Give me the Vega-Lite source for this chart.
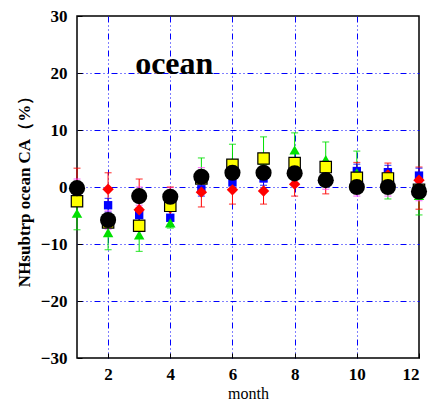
{
  "$schema": "https://vega.github.io/schema/vega-lite/v6.json",
  "width": 342,
  "height": 342,
  "autosize": {"type": "none"},
  "padding": {"left": 77, "top": 16, "right": 14, "bottom": 46},
  "background": "white",
  "config": {
    "view": {"stroke": "black", "strokeWidth": 1.5},
    "font": "Liberation Serif",
    "axis": {
      "domain": false,
      "tickSize": -5,
      "tickColor": "black",
      "labelColor": "black",
      "labelFont": "Liberation Serif",
      "labelFontWeight": "bold",
      "labelFontSize": 17,
      "titleColor": "black",
      "titleFont": "Liberation Serif",
      "gridColor": {"condition": {"test": "datum.value == 30 || datum.value == -30 || datum.value == 12", "value": "transparent"}, "value": "#0000ff"},
      "gridDash": [6, 3, 1, 3, 1, 3],
      "gridWidth": 1,
      "gridOpacity": 1
    },
    "axisX": {"labelPadding": 13, "titleFontWeight": "normal", "titleFontSize": 16, "titlePadding": 3},
    "axisY": {"labelPadding": 15, "titleFontWeight": "bold", "titleFontSize": 17, "titlePadding": 7}
  },
  "datasets": {
    "pts": [
      {"m": 1, "s": "black", "v": -0.2, "lo": -1.8, "hi": 1.4},
      {"m": 2, "s": "black", "v": -5.8, "lo": -7.4, "hi": -4.2},
      {"m": 3, "s": "black", "v": -1.6, "lo": -3.2, "hi": 0.0},
      {"m": 4, "s": "black", "v": -1.7, "lo": -3.3, "hi": -0.1},
      {"m": 5, "s": "black", "v": 1.8, "lo": 0.2, "hi": 3.4},
      {"m": 6, "s": "black", "v": 2.5, "lo": 0.9, "hi": 4.1},
      {"m": 7, "s": "black", "v": 2.5, "lo": 0.9, "hi": 4.1},
      {"m": 8, "s": "black", "v": 2.4, "lo": 0.8, "hi": 4.0},
      {"m": 9, "s": "black", "v": 1.2, "lo": -0.4, "hi": 2.8},
      {"m": 10, "s": "black", "v": 0.0, "lo": -1.6, "hi": 1.6},
      {"m": 11, "s": "black", "v": 0.0, "lo": -1.6, "hi": 1.6},
      {"m": 12, "s": "black", "v": -0.8, "lo": -2.4, "hi": 0.8},
      {"m": 1, "s": "yellow", "v": -2.5},
      {"m": 2, "s": "yellow", "v": -6.2},
      {"m": 3, "s": "yellow", "v": -6.8},
      {"m": 4, "s": "yellow", "v": -3.3},
      {"m": 5, "s": "yellow", "v": 1.5},
      {"m": 6, "s": "yellow", "v": 3.9},
      {"m": 7, "s": "yellow", "v": 5.0},
      {"m": 8, "s": "yellow", "v": 4.2},
      {"m": 9, "s": "yellow", "v": 3.5},
      {"m": 10, "s": "yellow", "v": 1.6},
      {"m": 11, "s": "yellow", "v": 1.5},
      {"m": 12, "s": "yellow", "v": -0.5},
      {"m": 1, "s": "green", "v": -4.6, "lo": -7.5, "hi": -1.7},
      {"m": 2, "s": "green", "v": -8.0, "lo": -11.0, "hi": -5.0},
      {"m": 3, "s": "green", "v": -8.4, "lo": -11.3, "hi": -5.5},
      {"m": 4, "s": "green", "v": -6.3, "lo": -7.2, "hi": -4.0},
      {"m": 5, "s": "green", "v": 2.0, "lo": -1.0, "hi": 5.1},
      {"m": 6, "s": "green", "v": 4.4, "lo": 1.5, "hi": 7.5},
      {"m": 7, "s": "green", "v": 4.7, "lo": 1.0, "hi": 8.8},
      {"m": 8, "s": "green", "v": 6.5, "lo": 3.5, "hi": 9.5},
      {"m": 9, "s": "green", "v": 4.8, "lo": 1.7, "hi": 7.9},
      {"m": 10, "s": "green", "v": 2.5, "lo": -1.0, "hi": 6.3},
      {"m": 11, "s": "green", "v": 0.5, "lo": -2.1, "hi": 3.0},
      {"m": 12, "s": "green", "v": -1.5, "lo": -4.9, "hi": 1.5},
      {"m": 1, "s": "red", "v": -0.5, "lo": -3.0, "hi": 3.3},
      {"m": 2, "s": "red", "v": -0.4, "lo": -3.0, "hi": 2.5},
      {"m": 3, "s": "red", "v": -4.0, "lo": -6.5, "hi": 1.4},
      {"m": 4, "s": "red", "v": -3.7, "lo": -5.5, "hi": 0.0},
      {"m": 5, "s": "red", "v": -0.9, "lo": -3.5, "hi": 1.5},
      {"m": 6, "s": "red", "v": -0.5, "lo": -3.0, "hi": 2.0},
      {"m": 7, "s": "red", "v": -0.7, "lo": -3.0, "hi": 1.8},
      {"m": 8, "s": "red", "v": 0.5, "lo": -1.6, "hi": 3.0},
      {"m": 9, "s": "red", "v": 1.5, "lo": -1.2, "hi": 4.5},
      {"m": 10, "s": "red", "v": 1.8, "lo": -0.5, "hi": 4.3},
      {"m": 11, "s": "red", "v": 2.1, "lo": 0.0, "hi": 4.2},
      {"m": 12, "s": "red", "v": 1.2, "lo": -3.9, "hi": 3.5},
      {"m": 1, "s": "blue", "v": -1.0, "lo": -2.2, "hi": 0.2},
      {"m": 2, "s": "blue", "v": -3.2, "lo": -4.4, "hi": -2.0},
      {"m": 3, "s": "blue", "v": -4.9, "lo": -6.1, "hi": -3.7},
      {"m": 4, "s": "blue", "v": -5.4, "lo": -6.6, "hi": -4.2},
      {"m": 5, "s": "blue", "v": -0.4, "lo": -1.6, "hi": 0.8},
      {"m": 6, "s": "blue", "v": 0.8, "lo": -0.4, "hi": 2.0},
      {"m": 7, "s": "blue", "v": 1.5, "lo": 0.3, "hi": 2.7},
      {"m": 8, "s": "blue", "v": 2.0, "lo": 0.8, "hi": 3.2},
      {"m": 9, "s": "blue", "v": 2.5, "lo": 1.3, "hi": 3.7},
      {"m": 10, "s": "blue", "v": 2.8, "lo": 1.6, "hi": 4.0},
      {"m": 11, "s": "blue", "v": 2.6, "lo": 1.4, "hi": 3.8},
      {"m": 12, "s": "blue", "v": 2.0, "lo": 0.8, "hi": 3.3}
    ],
    "label": [{"m": 2.87, "v": 19.8, "t": "ocean"}]
  },
  "encoding": {
    "x": {"field": "m", "type": "quantitative", "title": "month",
          "scale": {"domain": [1, 12], "nice": false, "zero": false},
          "axis": {"values": [2, 4, 6, 8, 10, 12]}}
  },
  "layer": [
    {
      "data": {"name": "pts"},
      "transform": [{"filter": "isValid(datum.lo)"}],
      "mark": {"type": "rule", "strokeWidth": 1},
      "encoding": {
        "y": {"field": "lo", "type": "quantitative", "title": "NHsubtrp ocean CA（%）",
              "scale": {"domain": [-30, 30], "nice": false},
              "axis": {"values": [-30, -20, -10, 0, 10, 20, 30]}},
        "y2": {"field": "hi"},
        "color": {"field": "s", "type": "nominal", "legend": null,
                  "scale": {"domain": ["black", "green", "red", "blue"], "range": ["#ff44ff", "#00e000", "#ff0000", "#0000ff"]}}
      }
    },
    {
      "data": {"name": "pts"},
      "transform": [{"filter": "isValid(datum.lo)"}],
      "mark": {"type": "tick", "orient": "horizontal", "size": 7, "thickness": 1.2},
      "encoding": {
        "y": {"field": "lo", "type": "quantitative", "title": "NHsubtrp ocean CA（%）"},
        "color": {"field": "s", "type": "nominal", "legend": null}
      }
    },
    {
      "data": {"name": "pts"},
      "transform": [{"filter": "isValid(datum.lo)"}],
      "mark": {"type": "tick", "orient": "horizontal", "size": 7, "thickness": 1.2},
      "encoding": {
        "y": {"field": "hi", "type": "quantitative", "title": "NHsubtrp ocean CA（%）"},
        "color": {"field": "s", "type": "nominal", "legend": null}
      }
    },
    {
      "data": {"name": "pts"},
      "transform": [{"filter": "datum.s == 'blue'"}],
      "mark": {"type": "point", "shape": "square", "filled": true, "color": "#0000ff", "size": 70, "opacity": 1},
      "encoding": {"y": {"field": "v", "type": "quantitative", "title": "NHsubtrp ocean CA（%）"}}
    },
    {
      "data": {"name": "pts"},
      "transform": [{"filter": "datum.s == 'red'"}],
      "mark": {"type": "point", "shape": "diamond", "filled": true, "color": "#ff0000", "size": 130, "opacity": 1},
      "encoding": {"y": {"field": "v", "type": "quantitative", "title": "NHsubtrp ocean CA（%）"}}
    },
    {
      "data": {"name": "pts"},
      "transform": [{"filter": "datum.s == 'green'"}],
      "mark": {"type": "point", "shape": "triangle-up", "filled": true, "color": "#00e000", "size": 110, "opacity": 1},
      "encoding": {"y": {"field": "v", "type": "quantitative", "title": "NHsubtrp ocean CA（%）"}}
    },
    {
      "data": {"name": "pts"},
      "transform": [{"filter": "datum.s == 'yellow'"}],
      "mark": {"type": "point", "shape": "square", "filled": true, "fill": "#ffff00", "stroke": "black", "strokeWidth": 1.2, "size": 130, "opacity": 1},
      "encoding": {"y": {"field": "v", "type": "quantitative", "title": "NHsubtrp ocean CA（%）"}}
    },
    {
      "data": {"name": "pts"},
      "transform": [{"filter": "datum.s == 'black'"}],
      "mark": {"type": "point", "shape": "circle", "filled": true, "color": "black", "size": 260, "opacity": 1},
      "encoding": {"y": {"field": "v", "type": "quantitative", "title": "NHsubtrp ocean CA（%）"}}
    },
    {
      "data": {"name": "label"},
      "mark": {"type": "text", "align": "left", "baseline": "alphabetic", "font": "Liberation Serif", "fontWeight": "bold", "fontSize": 32, "color": "black"},
      "encoding": {
        "y": {"field": "v", "type": "quantitative", "title": "NHsubtrp ocean CA（%）"},
        "text": {"field": "t"}
      }
    }
  ]
}
